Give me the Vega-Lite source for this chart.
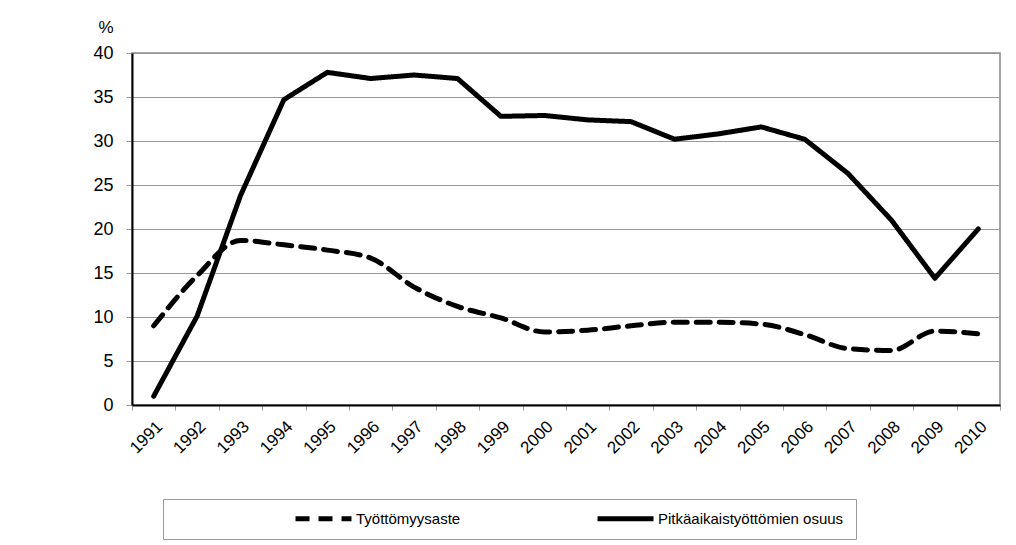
{
  "$schema": "https://vega.github.io/schema/vega-lite/v6.json",
  "width": 868,
  "height": 352,
  "autosize": {"type": "none"},
  "padding": {"left": 132, "top": 53, "right": 16, "bottom": 140},
  "background": "white",
  "config": {
    "font": "Liberation Sans",
    "view": {"stroke": "#888888", "strokeWidth": 1.5},
    "axis": {"labelFont": "Liberation Sans", "titleFont": "Liberation Sans", "labelColor": "black", "titleColor": "black"}
  },
  "data": {
    "values": [
      {"year": "1991", "series": "Työttömyysaste", "value": 9.0},
      {"year": "1992", "series": "Työttömyysaste", "value": 14.7},
      {"year": "1993", "series": "Työttömyysaste", "value": 18.7},
      {"year": "1994", "series": "Työttömyysaste", "value": 18.2},
      {"year": "1995", "series": "Työttömyysaste", "value": 17.6},
      {"year": "1996", "series": "Työttömyysaste", "value": 16.7},
      {"year": "1997", "series": "Työttömyysaste", "value": 13.4},
      {"year": "1998", "series": "Työttömyysaste", "value": 11.2},
      {"year": "1999", "series": "Työttömyysaste", "value": 9.9},
      {"year": "2000", "series": "Työttömyysaste", "value": 8.3},
      {"year": "2001", "series": "Työttömyysaste", "value": 8.5},
      {"year": "2002", "series": "Työttömyysaste", "value": 9.0},
      {"year": "2003", "series": "Työttömyysaste", "value": 9.4},
      {"year": "2004", "series": "Työttömyysaste", "value": 9.4},
      {"year": "2005", "series": "Työttömyysaste", "value": 9.2},
      {"year": "2006", "series": "Työttömyysaste", "value": 8.0},
      {"year": "2007", "series": "Työttömyysaste", "value": 6.4},
      {"year": "2008", "series": "Työttömyysaste", "value": 6.2},
      {"year": "2009", "series": "Työttömyysaste", "value": 8.4},
      {"year": "2010", "series": "Työttömyysaste", "value": 8.1},
      {"year": "1991", "series": "Pitkäaikaistyöttömien osuus", "value": 1.0},
      {"year": "1992", "series": "Pitkäaikaistyöttömien osuus", "value": 10.1},
      {"year": "1993", "series": "Pitkäaikaistyöttömien osuus", "value": 23.8},
      {"year": "1994", "series": "Pitkäaikaistyöttömien osuus", "value": 34.7},
      {"year": "1995", "series": "Pitkäaikaistyöttömien osuus", "value": 37.8},
      {"year": "1996", "series": "Pitkäaikaistyöttömien osuus", "value": 37.1},
      {"year": "1997", "series": "Pitkäaikaistyöttömien osuus", "value": 37.5},
      {"year": "1998", "series": "Pitkäaikaistyöttömien osuus", "value": 37.1},
      {"year": "1999", "series": "Pitkäaikaistyöttömien osuus", "value": 32.8},
      {"year": "2000", "series": "Pitkäaikaistyöttömien osuus", "value": 32.9},
      {"year": "2001", "series": "Pitkäaikaistyöttömien osuus", "value": 32.4},
      {"year": "2002", "series": "Pitkäaikaistyöttömien osuus", "value": 32.2},
      {"year": "2003", "series": "Pitkäaikaistyöttömien osuus", "value": 30.2},
      {"year": "2004", "series": "Pitkäaikaistyöttömien osuus", "value": 30.8},
      {"year": "2005", "series": "Pitkäaikaistyöttömien osuus", "value": 31.6},
      {"year": "2006", "series": "Pitkäaikaistyöttömien osuus", "value": 30.2},
      {"year": "2007", "series": "Pitkäaikaistyöttömien osuus", "value": 26.3},
      {"year": "2008", "series": "Pitkäaikaistyöttömien osuus", "value": 21.0},
      {"year": "2009", "series": "Pitkäaikaistyöttömien osuus", "value": 14.4},
      {"year": "2010", "series": "Pitkäaikaistyöttömien osuus", "value": 20.0}
    ]
  },
  "encoding": {
    "x": {
      "field": "year",
      "type": "ordinal",
      "scale": {"type": "band", "paddingInner": 0, "paddingOuter": 0},
      "axis": {
        "title": null,
        "labelAngle": -45,
        "labelFontSize": 17,
        "labelPadding": 8,
        "tickBand": "extent",
        "tickColor": "#999999",
        "tickSize": 5,
        "domainColor": "black",
        "domainWidth": 2,
        "grid": false
      }
    },
    "y": {
      "field": "value",
      "type": "quantitative",
      "scale": {"domain": [0, 40], "nice": false, "zero": true},
      "axis": {
        "title": "%",
        "titleAngle": 0,
        "titleFontSize": 17,
        "titleFontWeight": "normal",
        "titleX": -19,
        "titleY": -26,
        "titleAlign": "right",
        "titleBaseline": "middle",
        "values": [0, 5, 10, 15, 20, 25, 30, 35, 40],
        "labelFontSize": 18,
        "labelPadding": 13,
        "tickSize": 6,
        "tickColor": "#999999",
        "gridColor": "#999999",
        "gridWidth": 1,
        "domainColor": "black",
        "domainWidth": 2
      }
    },
    "strokeDash": {
      "field": "series",
      "type": "nominal",
      "scale": {
        "domain": ["Työttömyysaste", "Pitkäaikaistyöttömien osuus"],
        "range": [[14, 9], [1, 0]]
      },
      "legend": {
        "title": null,
        "orient": "none",
        "legendX": 31,
        "legendY": 446,
        "direction": "horizontal",
        "symbolType": "stroke",
        "symbolStrokeWidth": 5,
        "symbolSize": 3136,
        "symbolStrokeColor": "black",
        "symbolOffset": 118,
        "clipHeight": 15,
        "labelFontSize": 15,
        "labelColor": "black",
        "labelOffset": 2,
        "labelLimit": 600,
        "labelExpr": "datum.value == 'Työttömyysaste' ? datum.label : datum.label + '\u2003\u2003\u2003\u2003\u2003\u2003\u2003\u2003'",
        "columnPadding": 16,
        "padding": 12,
        "strokeColor": "#999999",
        "fillColor": "white"
      }
    }
  },
  "layer": [
    {
      "transform": [{"filter": "datum.series === 'Työttömyysaste'"}],
      "mark": {"type": "line", "color": "black", "strokeWidth": 5, "strokeCap": "round", "interpolate": "monotone"}
    },
    {
      "transform": [{"filter": "datum.series === 'Pitkäaikaistyöttömien osuus'"}],
      "mark": {"type": "line", "color": "black", "strokeWidth": 5, "strokeCap": "round", "strokeJoin": "round"}
    }
  ]
}
